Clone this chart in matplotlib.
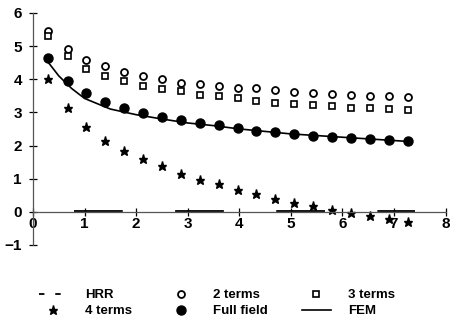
import matplotlib.pyplot as plt
from matplotlib.lines import Line2D

plt.rcParams['font.family'] = ['Liberation Sans', 'DejaVu Sans']

# --- data ---
x_pts = [0.30, 0.67, 1.03, 1.40, 1.77, 2.13, 2.50, 2.87, 3.23, 3.60,
         3.97, 4.33, 4.70, 5.07, 5.43, 5.80, 6.17, 6.53, 6.90, 7.27]
two_terms = [5.45, 4.90, 4.57, 4.39, 4.23, 4.11, 4.00, 3.90, 3.86, 3.79,
             3.72, 3.72, 3.68, 3.62, 3.58, 3.55, 3.52, 3.50, 3.48, 3.45]
three_terms = [5.29, 4.69, 4.32, 4.11, 3.96, 3.80, 3.70, 3.63, 3.53, 3.48,
               3.42, 3.34, 3.29, 3.26, 3.21, 3.19, 3.14, 3.12, 3.09, 3.07]
four_terms = [4.01, 3.14, 2.56, 2.15, 1.84, 1.59, 1.37, 1.15, 0.97, 0.84,
              0.66, 0.53, 0.40, 0.28, 0.17, 0.05, -0.05, -0.13, -0.23, -0.31]
full_field = [4.64, 3.96, 3.58, 3.31, 3.14, 2.99, 2.86, 2.76, 2.68, 2.62,
              2.53, 2.45, 2.40, 2.35, 2.30, 2.27, 2.24, 2.20, 2.17, 2.15]

fem_x = [0.30, 0.50, 0.75, 1.00, 1.50, 2.00, 2.50, 3.00, 3.50, 4.00, 5.00, 6.00, 7.00, 7.30]
fem_y = [4.50, 4.10, 3.72, 3.42, 3.10, 2.93, 2.80, 2.68, 2.60, 2.50, 2.35, 2.25, 2.15, 2.12]

hrr_x = [0.80, 7.40]
hrr_y = [0.02, 0.02]

xticks = [0, 1, 2, 3, 4, 5, 6, 7, 8]
yticks = [-1, 0, 1, 2, 3, 4, 5, 6]

fig = plt.figure(figsize=(4.5, 3.28), dpi=100)
ax = fig.add_axes([0.0618, 0.248, 0.934, 0.733])
ax.set_xlim(-0.1, 8.05)
ax.set_ylim(-1.05, 6.2)

# axes through the origin
for s in ['top', 'right']:
    ax.spines[s].set_visible(False)
ax.spines['left'].set_position(('data', 0))
ax.spines['bottom'].set_position(('data', 0))
ax.spines['left'].set_bounds(-1, 6)
ax.spines['bottom'].set_bounds(0, 8)
for s in ['left', 'bottom']:
    ax.spines[s].set_color('#555555')
    ax.spines[s].set_linewidth(0.9)

ax.set_xticks(xticks)
ax.set_yticks(yticks)
ax.tick_params(direction='inout', length=6, width=0.9, colors='black', labelsize=11)
ax.tick_params(axis='x', pad=1)
ax.tick_params(axis='y', pad=5)
for lab in ax.get_xticklabels() + ax.get_yticklabels():
    lab.set_fontweight('bold')

hrr, = ax.plot(hrr_x, hrr_y, color='black', lw=1.3, dashes=(27, 29))
fem, = ax.plot(fem_x, fem_y, color='black', lw=1.2)
t2, = ax.plot(x_pts, two_terms, 'o', ms=5, mfc='white', mec='black', mew=1.3, ls='none')
t3, = ax.plot(x_pts, three_terms, 's', ms=4.5, mfc='white', mec='black', mew=1.2, ls='none')
t4, = ax.plot(x_pts, four_terms, '*', ms=6.5, color='black', ls='none')
ff, = ax.plot(x_pts, full_field, 'o', ms=6.5, color='black', ls='none')

# legend: matplotlib fills column-first, so interleave to get row order
h_hrr = Line2D([], [], color='black', lw=1.3, dashes=(3, 6))
handles = [h_hrr, t4, t2, ff, t3, fem]
labels = ['HRR', '4 terms', '2 terms', 'Full field', '3 terms', 'FEM']
fig.legend(handles, labels, ncol=3, loc='upper left', bbox_to_anchor=(0.06, 0.155),
           frameon=False, handlelength=2.2, handletextpad=1.3, columnspacing=2.6,
           labelspacing=0.3, prop={'weight': 'bold', 'size': 9.5}, numpoints=1)

fig.savefig('out.png', dpi=100)
